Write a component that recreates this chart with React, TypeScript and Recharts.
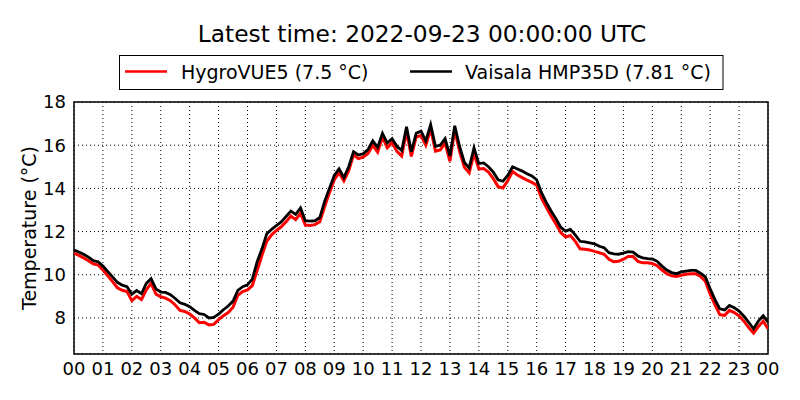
import { LineChart, Line, XAxis, YAxis, CartesianGrid, ReferenceArea } from 'recharts'

const FONT = '"DejaVu Sans", sans-serif'
const RED = '#ff0000'
const BLACK = '#000000'

// 10-minute samples, 00:00 to 24:00 UTC
const hygroVUE5 = [
  11.0, 10.9, 10.78, 10.65, 10.5, 10.45, 10.22, 9.95, 9.68, 9.4, 9.28, 9.22,
  8.8, 9.0, 8.85, 9.3, 9.6, 9.1, 8.98, 8.92, 8.8, 8.6, 8.35, 8.3,
  8.18, 8.0, 7.78, 7.8, 7.68, 7.7, 7.92, 8.1, 8.25, 8.5, 9.05, 9.22,
  9.3, 9.5, 10.2, 10.9, 11.55, 11.85, 12.05, 12.22, 12.45, 12.72, 12.55, 12.85,
  12.3, 12.28, 12.32, 12.45, 13.15, 13.8, 14.4, 14.72, 14.35, 14.82, 15.55, 15.38,
  15.45, 15.62, 16.0, 15.68, 16.38, 15.88, 16.12, 15.72, 15.5, 16.65, 15.48, 16.38,
  16.45, 16.0, 16.75, 15.72, 15.78, 16.1, 15.25, 16.7, 15.72, 14.98, 14.72, 15.62,
  14.9, 14.92, 14.75, 14.45, 14.08, 14.02, 14.35, 14.78, 14.62, 14.5, 14.38, 14.28,
  14.15, 13.55, 13.12, 12.72, 12.35, 11.95, 11.75, 11.82, 11.55, 11.2, 11.18, 11.15,
  11.08, 11.02, 10.95, 10.72, 10.6, 10.62, 10.72, 10.85, 10.85, 10.62, 10.55, 10.55,
  10.52, 10.42, 10.22, 10.05, 9.95, 9.92, 9.98, 10.02, 10.05, 10.05, 9.92, 9.7,
  9.1, 8.6, 8.15, 8.12, 8.35, 8.25, 8.1, 7.85, 7.55, 7.3, 7.6, 7.85,
  7.5,
]

const vaisalaHMP35D = [
  11.15, 11.05, 10.95, 10.82, 10.65, 10.6, 10.4, 10.15, 9.9, 9.65, 9.52, 9.45,
  9.1, 9.27, 9.12, 9.6, 9.82, 9.35, 9.2, 9.18, 9.08, 8.9, 8.7, 8.63,
  8.52, 8.35, 8.2, 8.16, 8.0, 8.02, 8.18, 8.38, 8.55, 8.78, 9.28, 9.45,
  9.53, 9.8, 10.6, 11.2, 11.9, 12.1, 12.28, 12.45, 12.7, 12.95, 12.8, 13.1,
  12.5, 12.48, 12.5, 12.65, 13.4, 14.0, 14.6, 14.9, 14.5, 15.0, 15.7, 15.55,
  15.6, 15.8, 16.2, 15.9, 16.55, 16.1, 16.3, 15.95, 15.75, 16.85, 15.7, 16.55,
  16.65, 16.2, 16.95, 15.95, 16.0, 16.3, 15.5, 16.9, 15.95, 15.2, 14.95, 15.88,
  15.15, 15.18, 15.0, 14.75, 14.4, 14.33, 14.6, 15.0, 14.9, 14.8, 14.68, 14.58,
  14.4, 13.8, 13.35, 12.95, 12.6, 12.2, 12.02, 12.1, 11.85, 11.55, 11.52, 11.48,
  11.43, 11.32, 11.25, 11.02, 10.97, 10.95, 11.0, 11.07, 11.05, 10.87, 10.78, 10.75,
  10.73, 10.62, 10.4, 10.22, 10.1, 10.05, 10.13, 10.17, 10.2, 10.2, 10.07, 9.9,
  9.35, 8.85, 8.42, 8.37, 8.58, 8.47, 8.32, 8.08, 7.8, 7.5, 7.85, 8.1,
  7.81,
]

const hourTicks = [0, 1, 2, 3, 4, 5, 6, 7, 8, 9, 10, 11, 12, 13, 14, 15, 16, 17, 18, 19, 20, 21, 22, 23, 24]
const hourLabels = ['00', '01', '02', '03', '04', '05', '06', '07', '08', '09', '10', '11',
  '12', '13', '14', '15', '16', '17', '18', '19', '20', '21', '22', '23', '00']
const tempTicks = [8, 10, 12, 14, 16, 18]
const Y_DOMAIN: [number, number] = [6.33, 18]

const title = 'Latest time: 2022-09-23 00:00:00 UTC'
const seriesNames = ['HygroVUE5 (7.5 °C)', 'Vaisala HMP35D (7.81 °C)']

const rows = vaisalaHMP35D.map((v, i) => ({
  hour: i / 6,
  hygro: hygroVUE5[i],
  vaisala: v,
}))

const tickStyle = { fontSize: 18, fill: '#000', fontFamily: FONT }

function Overlay() {
  return (
    <svg
      width={800}
      height={400}
      style={{ position: 'absolute', left: 0, top: 0, pointerEvents: 'none' }}
    >
      <text x={422} y={42} textAnchor="middle" fontFamily={FONT} fontSize={23.3} fill="#000">
        {title}
      </text>
      <rect x={119.5} y={55.5} width={603.5} height={34} fill="#fff" stroke="#000" strokeWidth={1} />
      <line x1={125} x2={167} y1={71.5} y2={71.5} stroke={RED} strokeWidth={2.5} />
      <text x={181} y={78.5} fontFamily={FONT} fontSize={19} fill="#000">{seriesNames[0]}</text>
      <line x1={410} x2={452} y1={71.5} y2={71.5} stroke={BLACK} strokeWidth={2.5} />
      <text x={465} y={78.5} fontFamily={FONT} fontSize={19} fill="#000">{seriesNames[1]}</text>
      <text
        x={0}
        y={0}
        transform="translate(36 228) rotate(-90)"
        textAnchor="middle"
        fontFamily={FONT}
        fontSize={19}
        fill="#000"
      >
        Temperature (°C)
      </text>
    </svg>
  )
}

export default function App() {
  return (
    <div style={{ position: 'absolute', left: 0, top: 0, width: 800, height: 400, background: '#fff' }}>
      <LineChart
        width={800}
        height={400}
        data={rows}
        margin={{ top: 102, right: 32, bottom: 16, left: 0 }}
      >
        <CartesianGrid stroke="#000" strokeWidth={1} strokeDasharray="1 3" />
        <XAxis
          dataKey="hour"
          type="number"
          domain={[0, 24]}
          ticks={hourTicks}
          interval={0}
          tickFormatter={(h: number) => hourLabels[h]}
          tick={tickStyle}
          tickLine={false}
          axisLine={false}
          height={30}
          allowDataOverflow
        />
        <YAxis
          type="number"
          domain={Y_DOMAIN}
          ticks={tempTicks}
          tick={tickStyle}
          tickLine={false}
          axisLine={false}
          width={74}
          allowDataOverflow
        />
        <Line
          dataKey="hygro"
          stroke={RED}
          strokeWidth={3}
          dot={false}
          type="linear"
          isAnimationActive={false}
        />
        <Line
          dataKey="vaisala"
          stroke={BLACK}
          strokeWidth={2.8}
          dot={false}
          type="linear"
          isAnimationActive={false}
        />
        <ReferenceArea
          x1={0}
          x2={24}
          y1={Y_DOMAIN[0]}
          y2={Y_DOMAIN[1]}
          fill="none"
          stroke="#000"
          strokeWidth={1.5}
        />
      </LineChart>
      <Overlay />
    </div>
  )
}
